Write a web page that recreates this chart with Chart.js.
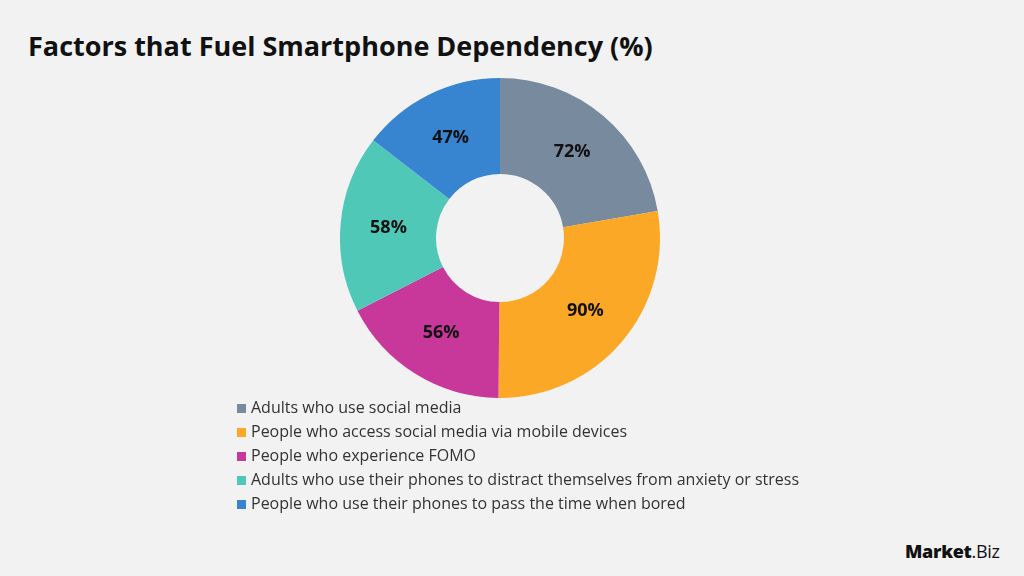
<!DOCTYPE html>
<html>
<head>
<meta charset="utf-8">
<script src="https://cdn.jsdelivr.net/npm/chart.js@4.4.1/dist/chart.umd.min.js"></script>
<style>
  html, body { margin: 0; padding: 0; }
  body { width: 1024px; height: 576px; background: #f2f2f2; position: relative; overflow: hidden;
         font-family: "Open Sans", sans-serif; color: #1a1a1a; }
  #title { position: absolute; left: 28px; top: 27px; font-size: 27px; font-weight: 700; color: #111; white-space: nowrap; }
  #wrap { position: absolute; left: 340px; top: 78px; width: 320px; height: 320px; }
  #legend { position: absolute; left: 237px; top: 396px; margin: 0; padding: 0; list-style: none; }
  #legend li { height: 24px; line-height: 22px; font-size: 16px; color: #333; white-space: nowrap; }
  #legend span.box { display: inline-block; width: 9px; height: 9px; margin-right: 5px; vertical-align: 0px; }
  #logo { position: absolute; left: 905px; top: 539px; font-size: 18px; font-weight: 800; color: #111; letter-spacing: -0.3px; }
  #logo .biz { font-weight: 400; }
</style>
</head>
<body>
<div id="title">Factors that Fuel Smartphone Dependency (%)</div>
<div id="wrap"><canvas id="myChart"></canvas></div>
<ul id="legend"></ul>
<div id="logo">Market<span class="biz">.Biz</span></div>
<script>
var categories = [
    "Adults who use social media",
    "People who access social media via mobile devices",
    "People who experience FOMO",
    "Adults who use their phones to distract themselves from anxiety or stress",
    "People who use their phones to pass the time when bored"
];
var values = [72, 90, 56, 58, 47];
var colors = ["#788a9e", "#fba827", "#c8379a", "#4fc8b8", "#3784d0"];

// draws the "72%" style labels in the middle of each slice
var sliceLabels = {
    id: 'sliceLabels',
    afterDatasetsDraw: function(chart){
        var ctx = chart.ctx;
        var meta = chart.getDatasetMeta(0);
        ctx.save();
        ctx.font = "bold 18px 'Open Sans', sans-serif";
        ctx.fillStyle = "#111";
        ctx.textAlign = "center";
        ctx.textBaseline = "middle";
        meta.data.forEach(function(arc, i){
            var p = arc.tooltipPosition();
            ctx.fillText(chart.data.datasets[0].data[i] + "%", p.x, p.y);
        });
        ctx.restore();
    }
};

var chart = new Chart(document.getElementById("myChart"), {
    type: 'doughnut',
    data: {
        labels: categories,
        datasets: [{
            data: values,
            backgroundColor: colors,
            borderWidth: 0
        }]
    },
    options: {
        responsive: true,
        maintainAspectRatio: false,
        animation: false,
        cutout: '40%',
        layout: { padding: 0 },
        plugins: {
            legend: { display: false },
            tooltip: { enabled: false }
        }
    },
    plugins: [sliceLabels]
});

// html legend, one item per line
var ul = document.getElementById("legend");
categories.forEach(function(name, i){
    var li = document.createElement("li");
    var box = document.createElement("span");
    box.className = "box";
    box.style.background = colors[i];
    li.appendChild(box);
    li.appendChild(document.createTextNode(name));
    ul.appendChild(li);
});
</script>
</body>
</html>
